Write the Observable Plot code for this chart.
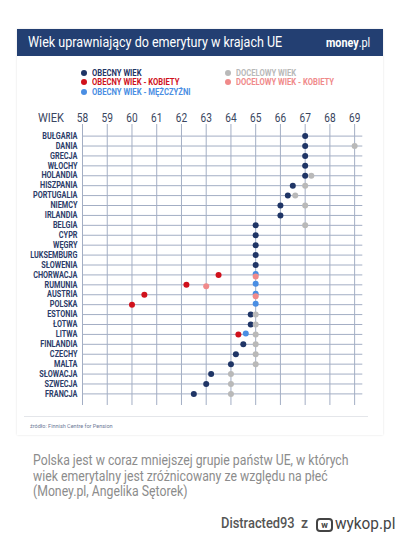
<!DOCTYPE html>
<html>
<head>
<meta charset="utf-8">
<script src="https://cdn.jsdelivr.net/npm/d3@7"></script>
<script src="https://cdn.jsdelivr.net/npm/@observablehq/plot@0.6"></script>
<style>
  html, body { margin: 0; padding: 0; background: #fff; width: 400px; height: 535px; overflow: hidden; }
  body { position: relative; font-family: Roboto, "Noto Sans", sans-serif; }
  .abs { position: absolute; white-space: nowrap; transform-origin: 0 50%; }
  .card { left: 17px; top: 29px; width: 366px; height: 406px; background: #fff; box-shadow: 0 0 2px rgba(0,0,0,0.12); }
  .band { left: 17px; top: 29px; width: 366px; height: 27px; background: #233f72; }
  .title { left: 28px; top: 33px; font-size: 14px; color: #fff; line-height: 18px; transform: scaleX(0.895); }
  .brand { left: 326px; top: 35px; font-size: 12px; color: #fff; line-height: 16px; transform: scaleX(0.9); }
  .leg { font-size: 8.8px; line-height: 10px; font-weight: bold; transform: scaleX(0.87); }
  .legdot { width: 6px; height: 6px; border-radius: 50%; }
  .wiek { left: 38px; top: 110px; font-size: 13px; color: #3a4660; line-height: 16px; transform: scaleX(0.85); }
  .sep { left: 24px; top: 416px; width: 344px; height: 1px; background: #e4e6ea; }
  .src { left: 30px; top: 423px; font-size: 5.5px; color: #6b7896; }
  .caption { left: 33px; top: 453px; font-size: 14px; line-height: 15.6px; color: #8c8c8c; transform: scaleX(0.875); transform-origin: 0 0; }
  .user { top: 513px; font-size: 14px; color: #555; font-weight: 500; line-height: 20px; }
  .logo { left: 316px; top: 518px; width: 17px; height: 14px; border: 2px solid #444; border-radius: 4px; box-sizing: border-box; font-size: 9px; font-weight: bold; color: #444; text-align: center; line-height: 10px; }
  .wykop { left: 334.5px; top: 514px; font-size: 16px; color: #444; line-height: 20px; transform: scaleX(0.96); }
</style>
</head>
<body>
<div class="abs card"></div>
<div class="abs band"></div>
<div class="abs title">Wiek uprawniający do emerytury w krajach UE</div>
<div class="abs brand"><b>money</b>.pl</div>
<div id="legend"></div>
<div class="abs wiek">WIEK</div>
<div id="chart" class="abs" style="left:17px; top:100px;"></div>
<div class="abs sep"></div>
<div class="abs src">źródło: Finnish Centre for Pension</div>
<div class="abs caption">Polska jest w coraz mniejszej grupie państw UE, w których<br>wiek emerytalny jest zróżnicowany ze względu na płeć<br>(Money.pl, Angelika Sętorek)</div>
<div class="abs user" style="left:221px; transform: scaleX(0.92);">Distracted93</div>
<div class="abs user" style="left:301px;">z</div>
<div class="abs logo">w</div>
<div class="abs wykop">wykop.pl</div>
<script>
// ---- data ----
const countries = ["BUŁGARIA","DANIA","GRECJA","WŁOCHY","HOLANDIA","HISZPANIA","PORTUGALIA","NIEMCY","IRLANDIA","BELGIA","CYPR","WĘGRY","LUKSEMBURG","SŁOWENIA","CHORWACJA","RUMUNIA","AUSTRIA","POLSKA","ESTONIA","ŁOTWA","LITWA","FINLANDIA","CZECHY","MALTA","SŁOWACJA","SZWECJA","FRANCJA"];
const currentAge      = [67,67,67,67,67,66.5,66.3,66,66,65,65,65,65,65,null,null,null,null,64.8,64.8,null,64.5,64.2,64,63.2,63,62.5];
const currentWomen    = [null,null,null,null,null,null,null,null,null,null,null,null,null,null,63.5,62.2,60.5,60,null,null,64.3,null,null,null,null,null,null];
const currentMen      = [null,null,null,null,null,null,null,null,null,null,null,null,null,null,65,65,65,65,null,null,64.6,null,null,null,null,null,null];
const targetAge       = [null,69,null,null,67.25,67,66.6,67,null,67,null,null,null,null,null,null,null,null,65,65,65,65,65,65,64,64,64];
const targetWomen     = [null,null,null,null,null,null,null,null,null,null,null,null,null,null,65,63,65,null,null,null,null,null,null,null,null,null,null];
const ageTicks = [58,59,60,61,62,63,64,65,66,67,68,69];

const seriesNames  = ["OBECNY WIEK","OBECNY WIEK - KOBIETY","OBECNY WIEK - MĘŻCZYŹNI","DOCELOWY WIEK","DOCELOWY WIEK - KOBIETY"];
const seriesColors = ["#1f3566","#d0111c","#4a8ee3","#b9b9b9","#f08a8a"];

// ---- legend ----
const legendCols = [[0,1,2],[3,4]];
const legend = document.getElementById("legend");
legendCols.forEach((col, ci) => {
  col.forEach((si, ri) => {
    const left = ci === 0 ? 81 : 225;
    const top = 67.5 + ri * 9.7;
    const d = document.createElement("div");
    d.className = "abs legdot";
    d.style.left = left + "px"; d.style.top = (top + 2) + "px";
    d.style.background = seriesColors[si];
    legend.appendChild(d);
    const t = document.createElement("div");
    t.className = "abs leg";
    t.style.left = (left + 11) + "px"; t.style.top = top + "px";
    t.style.color = seriesColors[si];
    t.textContent = seriesNames[si];
    legend.appendChild(t);
  });
});

// ---- chart ----
const toRows = (vals) => countries.map((c, i) => ({country: c, age: vals[i]})).filter(d => d.age != null);
const r = 3;
const chart = Plot.plot({
  width: 366,
  height: 315,
  marginLeft: 65,
  marginRight: 20.7,
  marginTop: 24,
  marginBottom: 10,
  style: {fontFamily: "Roboto, sans-serif", background: "transparent"},
  x: {domain: [58, 69.33], ticks: ageTicks},
  y: {domain: countries, type: "point", padding: 1.17, round: false},
  marks: [
    Plot.ruleY(countries, {y: d => d, stroke: "#a3aec4", strokeWidth: 1}),
    Plot.ruleX(ageTicks, {x: d => d, stroke: "#a3aec4", strokeWidth: 1}),
    Plot.axisX({anchor: "top", ticks: ageTicks, tickSize: 0, tickPadding: 3, fontSize: 13, fill: "#3a4660", label: null, tickFormat: d => String(d), className: "xax"}),
    Plot.axisY({anchor: "left", tickSize: 0, tickPadding: 5, fontSize: 8.5, fontWeight: "bold", fill: "#2c3c68", label: null, className: "yax"}),
    Plot.dot(toRows(currentAge), {x: "age", y: "country", r, fill: seriesColors[0]}),
    Plot.dot(toRows(targetAge), {x: "age", y: "country", r, fill: seriesColors[3]}),
    Plot.dot(toRows(currentWomen), {x: "age", y: "country", r, fill: seriesColors[1]}),
    Plot.dot(toRows(currentMen), {x: "age", y: "country", r, fill: seriesColors[2], dy: -1}),
    Plot.dot(toRows(targetWomen), {x: "age", y: "country", r, fill: seriesColors[4], dy: 1.5})
  ]
});
// condense axis tick labels horizontally (styling only)
d3.select(chart).selectAll("g[aria-label='x-axis tick label'] text, .xax text").each(function() {
  const t = this.getAttribute("transform") || "";
  if (!/scale/.test(t)) this.setAttribute("transform", t + " scale(0.78,1)");
});
d3.select(chart).selectAll("g[aria-label='y-axis tick label'] text, .yax text").each(function() {
  const t = this.getAttribute("transform") || "";
  if (!/scale/.test(t)) this.setAttribute("transform", t + " scale(0.86,1)");
});
document.getElementById("chart").appendChild(chart);
</script>
</body>
</html>
